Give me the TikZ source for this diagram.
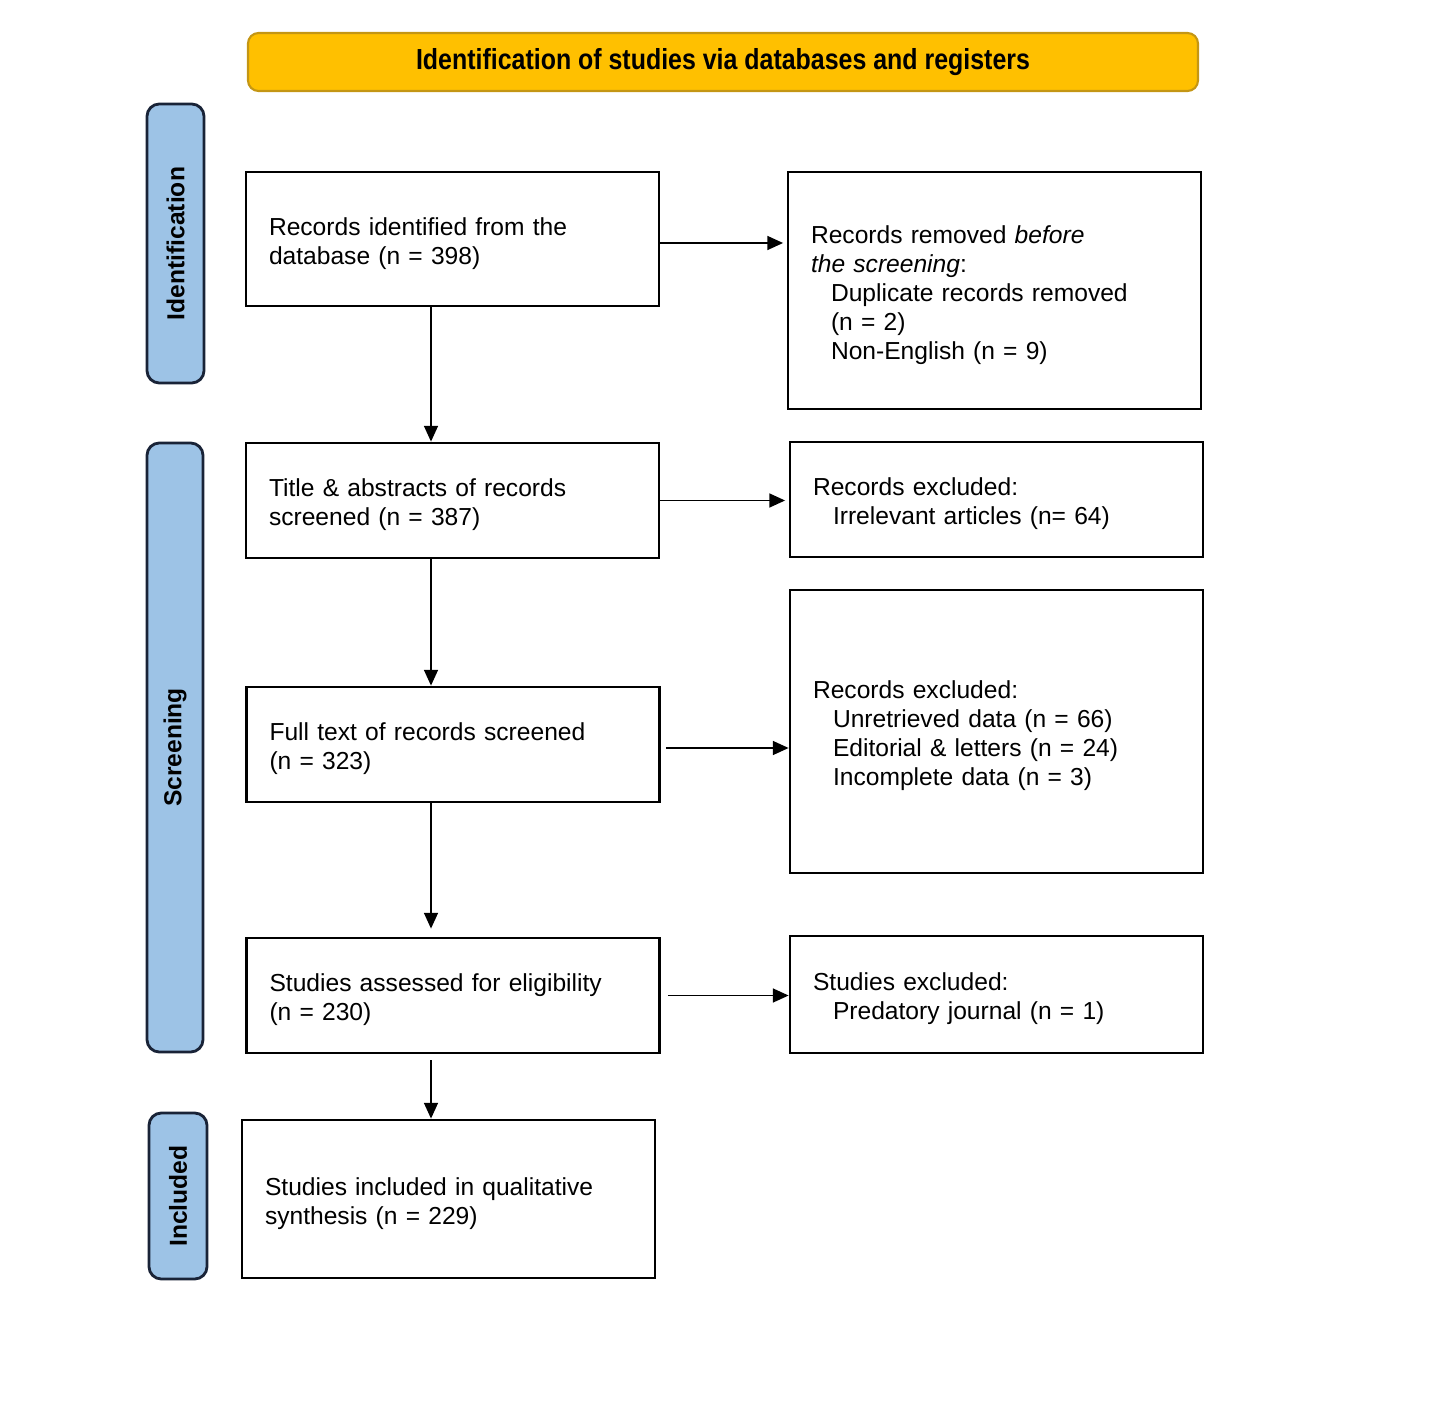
\documentclass[tikz,border=0pt]{standalone}
\usepackage{fontspec}
\setmainfont{Liberation Sans}
\newfontfamily\titlefont[FakeStretch=0.86]{Liberation Sans}
\usepackage{tikz}
\usetikzlibrary{arrows.meta, positioning, calc}

\definecolor{bargold}{RGB}{255, 192, 0}
\definecolor{bargoldline}{RGB}{196, 150, 20}
\definecolor{stageblue}{RGB}{157, 195, 230}
\definecolor{stageline}{RGB}{25, 35, 55}

\newcommand{\exclind}{\hspace*{0.4cm}}

\tikzset{
  flowbox/.style={draw=black, line width=1.6pt, fill=white, text width=7.34cm, align=left,
    inner xsep=0.46cm, inner ysep=0pt, font=\fontsize{14}{16.5}\selectfont,
    execute at begin node={\rule{0pt}{15pt}}},
  stagebox/.style={draw=stageline, line width=1.6pt, fill=stageblue, rounded corners=7pt,
    rotate=90, inner sep=0pt, font=\fontsize{14}{16.5}\selectfont\bfseries},
  flow/.style={line width=0.85pt, -{Triangle[length=9pt, width=8pt]}}
}

\begin{document}
\begin{tikzpicture}
  \useasboundingbox (0, 0) rectangle (29.04, -28.5);

  % Header bar
  \node[draw=bargoldline, line width=1.2pt, fill=bargold, rounded corners=6pt, minimum width=19cm, minimum height=1.16cm,
    font=\fontsize{16.5}{19}\titlefont\bfseries] (header) at (14.46, -1.24) {Identification of studies via databases and registers};

  % Stage labels
  \node[stagebox, minimum width=5.58cm, minimum height=1.14cm] (stageid) at (3.51, -4.87) {Identification};
  \node[stagebox, minimum width=12.18cm, minimum height=1.12cm] (stagescr) at (3.5, -14.95) {Screening};
  \node[stagebox, minimum width=3.32cm, minimum height=1.16cm] (stageinc) at (3.56, -23.92) {Included};

  % Main column
  \node[flowbox, minimum height=2.68cm] (identified) at (9.05, -4.78) {Records identified from the\\database (n = 398)};
  \node[flowbox, minimum height=2.3cm] (titleabs) at (9.05, -10.01) {Title \& abstracts of records\\screened (n = 387)};
  \node[flowbox, minimum height=2.3cm] (fulltext) at (9.06, -14.89) {Full text of records screened\\(n = 323)};
  \node[flowbox, minimum height=2.3cm] (eligible) at (9.06, -19.91) {Studies assessed for eligibility\\(n = 230)};
  \node[flowbox, minimum height=3.16cm] (included) at (8.97, -23.98) {Studies included in qualitative\\synthesis (n = 229)};

  % Exclusions
  \node[flowbox, minimum height=4.74cm] (removed) at (19.89, -5.81) {Records removed \textit{before}\\\textit{the screening}:\\
    \exclind Duplicate records removed\\\exclind (n = 2)\\\exclind Non-English (n = 9)};
  \node[flowbox, minimum height=2.3cm] (exclabs) at (19.93, -9.99) {Records excluded:\\\exclind Irrelevant articles (n= 64)};
  \node[flowbox, minimum height=5.66cm] (exclfull) at (19.93, -14.63) {Records excluded:\\\exclind Unretrieved data (n = 66)\\
    \exclind Editorial \& letters (n = 24)\\\exclind Incomplete data (n = 3)};
  \node[flowbox, minimum height=2.34cm] (exclelig) at (19.93, -19.89) {Studies excluded:\\\exclind Predatory journal (n = 1)};

  % Arrows
  \coordinate (spine) at (8.62, 0);
  \draw[flow] (identified.south -| spine) -- (titleabs.north -| spine);
  \draw[flow] (titleabs.south -| spine) -- (fulltext.north -| spine);
  \draw[flow, shorten >=0.16cm] (fulltext.south -| spine) -- (eligible.north -| spine);
  \draw[flow, shorten <=0.12cm] (eligible.south -| spine) -- (included.north -| spine);

  \draw[flow, shorten >=2pt] ([yshift=-0.08cm]identified.east) -- ([yshift=-0.08cm]identified.east -| removed.west);
  \draw[flow, shorten >=2pt] (titleabs.east) -- (titleabs.east -| exclabs.west);
  \draw[flow, shorten <=0.1cm] ([yshift=-0.07cm]fulltext.east) -- ([yshift=-0.07cm]fulltext.east -| exclfull.west);
  \draw[flow, shorten <=0.14cm] (eligible.east) -- (eligible.east -| exclelig.west);
\end{tikzpicture}
\end{document}
